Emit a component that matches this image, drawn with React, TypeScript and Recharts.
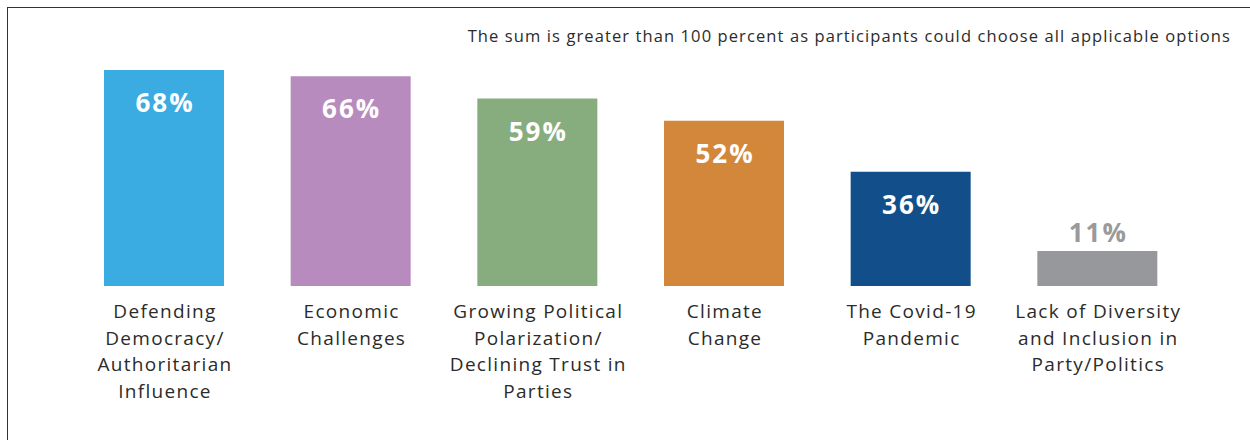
import { BarChart, Bar, XAxis, YAxis, Cell, LabelList } from 'recharts';

const categories = [
  'Defending Democracy/ Authoritarian Influence',
  'Economic Challenges',
  'Growing Political Polarization/ Declining Trust in Parties',
  'Climate Change',
  'The Covid-19 Pandemic',
  'Lack of Diversity and Inclusion in Party/Politics',
];

// how each category name is broken into lines under its bar
const tickLines = [
  ['Defending', 'Democracy/', 'Authoritarian', 'Influence'],
  ['Economic', 'Challenges'],
  ['Growing Political', 'Polarization/', 'Declining Trust in', 'Parties'],
  ['Climate', 'Change'],
  ['The Covid-19', 'Pandemic'],
  ['Lack of Diversity', 'and Inclusion in', 'Party/Politics'],
];

const percents = [68, 66, 59, 52, 36, 11];

const barColors = ['#3BACE2', '#B78BBE', '#87AD7E', '#D3873A', '#124E89', '#97989B'];

const note = 'The sum is greater than 100 percent as participants could choose all applicable options';

const data = categories.map((name, i) => ({ name, value: percents[i] }));

const FONT = '"Open Sans", Lato, sans-serif';

function CategoryTick(props: any) {
  const { x, y, index } = props;
  const lines = tickLines[index] || [];
  return (
    <text
      x={x}
      y={y}
      textAnchor="middle"
      fill="#2b2b2b"
      fontSize={19}
      letterSpacing={1.3}
      fontFamily={FONT}
    >
      {lines.map((l, i) => (
        <tspan key={i} x={x + 0.65} dy={i === 0 ? 24 : 26.5}>
          {l}
        </tspan>
      ))}
    </text>
  );
}

function ValueLabel(props: any) {
  const { x, y, width, height, value } = props;
  const inside = height > 60;
  return (
    <text
      x={x + width / 2 + 1}
      y={inside ? y + 42 : y - 9}
      textAnchor="middle"
      fill={inside ? '#ffffff' : '#9a9a9c'}
      fontSize={26}
      fontWeight={700}
      letterSpacing={2}
      fontFamily={FONT}
    >
      {value}%
    </text>
  );
}

export default function App() {
  return (
    <div style={{ position: 'absolute', left: 0, top: 0, width: 1250, height: 440, background: '#fff', overflow: 'hidden' }}>
      {/* frame: only top and left edges are visible */}
      <div
        style={{
          position: 'absolute',
          left: 7,
          top: 7,
          width: 1260,
          height: 460,
          borderTop: '1.5px solid #333',
          borderLeft: '1.5px solid #333',
        }}
      />
      <div
        style={{
          position: 'absolute',
          right: 19,
          top: 24,
          fontFamily: FONT,
          fontSize: 16.5,
          letterSpacing: 1.1,
          color: '#2b2b2b',
          whiteSpace: 'nowrap',
        }}
      >
        {note}
      </div>
      <div style={{ position: 'absolute', left: 0, top: 0 }}>
        <BarChart
          width={1250}
          height={440}
          data={data}
          margin={{ top: 70, right: 59, bottom: 0, left: 71 }}
          barSize={120}
        >
          <XAxis
            dataKey="name"
            axisLine={false}
            tickLine={false}
            height={154}
            interval={0}
            tick={<CategoryTick />}
          />
          <YAxis hide domain={[0, 68]} />
          <Bar dataKey="value" isAnimationActive={false}>
            {data.map((d, i) => (
              <Cell key={d.name} fill={barColors[i]} />
            ))}
            <LabelList dataKey="value" content={<ValueLabel />} />
          </Bar>
        </BarChart>
      </div>
    </div>
  );
}
